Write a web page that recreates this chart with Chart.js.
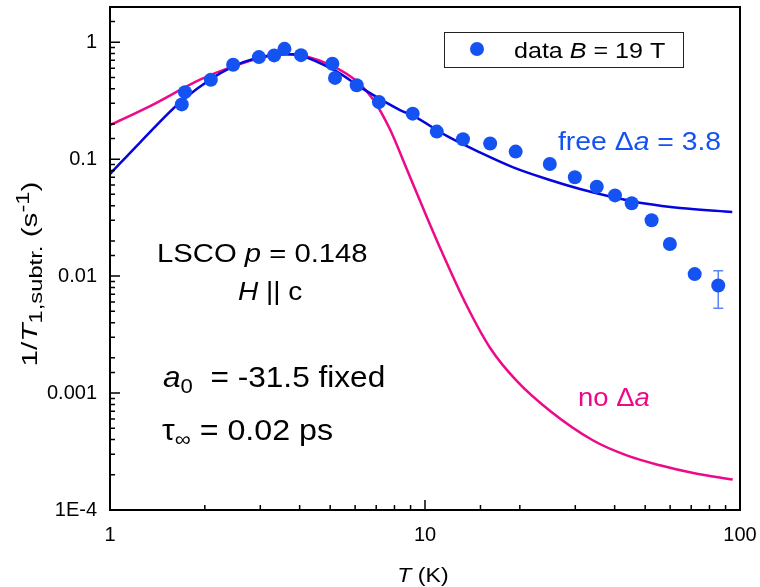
<!DOCTYPE html>
<html>
<head>
<meta charset="utf-8">
<script src="https://cdn.jsdelivr.net/npm/chart.js@4.4.1/dist/chart.umd.min.js"></script>
<style>
  html, body { margin: 0; padding: 0; background: #fff; }
</style>
</head>
<body>
<canvas id="chart" width="760" height="587"></canvas>
<script>
// measured data, B = 19 T
const tempData = [1.69, 1.73, 2.09, 2.46, 2.97, 3.32, 3.58, 4.04, 5.08, 5.18, 6.07, 7.14, 9.14, 10.9, 13.2, 16.1, 19.4, 24.9, 29.9, 35.1, 40.1, 45.3, 52.4, 59.9, 71.8, 85.3];
const rateData = [0.294, 0.374, 0.478, 0.641, 0.746, 0.771, 0.877, 0.775, 0.654, 0.495, 0.429, 0.308, 0.245, 0.172, 0.148, 0.136, 0.116, 0.091, 0.070, 0.058, 0.049, 0.042, 0.030, 0.0188, 0.0104, 0.0083];

// error bar (last point only)
const errT = [85.3];
const errLow = [0.0053];
const errHigh = [0.0111];

// fit with free delta a = 3.8
const fitFreeT = [1, 1.245, 1.709, 2.463, 3.299, 3.6, 4.01, 5.117, 6.53, 8.33, 9.18, 11.72, 14.95, 19.06, 24.34, 31.05, 39.6, 50.6, 64.5, 94.5];
const fitFreeRate = [0.0746, 0.1387, 0.3236, 0.622, 0.780, 0.79, 0.771, 0.582, 0.3814, 0.263, 0.234, 0.158, 0.1141, 0.0851, 0.0677, 0.0556, 0.0473, 0.0415, 0.0382, 0.0353];

// fit with no delta a
const fitNoT = [1, 1.34, 1.931, 2.457, 3.144, 3.64, 4.21, 5.117, 6.07, 6.85, 7.74, 8.75, 9.88, 11.3, 13.56, 16.08, 19.55, 24.9, 34.2, 43.7, 55.7, 71.1, 94.8];
const fitNoRate = [0.195, 0.284, 0.478, 0.622, 0.756, 0.791, 0.756, 0.622, 0.464, 0.324, 0.180, 0.0823, 0.0376, 0.0162, 0.0056, 0.00244, 0.00127, 0.000707, 0.000393, 0.000293, 0.000241, 0.000207, 0.000182];

// axis ticks
const xTickValues = [1, 10, 100];
const xTickLabels = ['1', '10', '100'];
const yTickValues = [1e-4, 1e-3, 1e-2, 1e-1, 1];
const yTickLabels = ['1E-4', '0.001', '0.01', '0.1', '1'];

const DOT_BLUE = '#1452f2';
const LINE_BLUE = '#0505dc';
const PINK = '#ec0a88';
const FONT = "'Liberation Sans', Arial, sans-serif";

const pts = (xs, ys) => xs.map((x, i) => ({ x, y: ys[i] }));
const near = (a, b) => Math.abs(Math.log10(a) - Math.log10(b)) < 1e-6;
const decadeLabel = (vals, labels) => v => {
  const i = vals.findIndex(t => near(t, v));
  return i >= 0 ? labels[i] : '';
};

// text with italic / sub / sup runs, sx = horizontal stretch
function richText(ctx, parts, x, y, size, color, align, sx = 1, subScale = 0.7) {
  const fontFor = st => {
    const small = st === 'sub' || st === 'sup';
    return (st === 'i' ? 'italic ' : '') + (small ? size * subScale : size) + 'px ' + FONT;
  };
  let w = 0;
  parts.forEach(([t, st]) => { ctx.font = fontFor(st); w += ctx.measureText(t).width; });
  ctx.save();
  ctx.translate(x, y);
  ctx.scale(sx, 1);
  let cx = align === 'center' ? -w / 2 : 0;
  ctx.fillStyle = color;
  ctx.textAlign = 'left';
  ctx.textBaseline = 'alphabetic';
  parts.forEach(([t, st]) => {
    ctx.font = fontFor(st);
    const dy = st === 'sub' ? size * 0.22 : st === 'sup' ? -size * 0.38 : 0;
    ctx.fillText(t, cx, dy);
    cx += ctx.measureText(t).width;
  });
  ctx.restore();
}

const isDecade = v => Math.abs(Math.log10(v) - Math.round(Math.log10(v))) < 1e-6;

// frame, inward ticks, error bar, legend and labels
const decor = {
  id: 'decor',
  beforeDatasetsDraw(chart) {
    const { ctx, scales: { x, y } } = chart;
    ctx.save();
    ctx.strokeStyle = '#5a86f2';
    ctx.lineWidth = 1.5;
    errT.forEach((t, i) => {
      const px = x.getPixelForValue(t);
      const lo = y.getPixelForValue(errLow[i]);
      const hi = y.getPixelForValue(errHigh[i]);
      ctx.beginPath();
      ctx.moveTo(px, lo); ctx.lineTo(px, hi);
      ctx.moveTo(px - 5, lo); ctx.lineTo(px + 5, lo);
      ctx.moveTo(px - 5, hi); ctx.lineTo(px + 5, hi);
      ctx.stroke();
    });
    ctx.restore();
  },
  afterDraw(chart) {
    const { ctx, chartArea: { left, right, top, bottom }, scales: { x, y } } = chart;
    ctx.save();
    ctx.strokeStyle = '#000';
    ctx.lineWidth = 2;
    ctx.strokeRect(left, top, right - left, bottom - top);

    ctx.lineWidth = 1.5;
    ctx.beginPath();
    x.ticks.forEach(t => {
      const px = x.getPixelForValue(t.value);
      const len = isDecade(t.value) ? 10 : 5;
      ctx.moveTo(px, bottom); ctx.lineTo(px, bottom - len);
    });
    y.ticks.forEach(t => {
      const py = y.getPixelForValue(t.value);
      const len = isDecade(t.value) ? 10 : 5;
      ctx.moveTo(left, py); ctx.lineTo(left + len, py);
    });
    ctx.stroke();

    // legend
    ctx.lineWidth = 1;
    ctx.strokeStyle = '#222';
    ctx.strokeRect(444.5, 32.5, 239, 35);
    ctx.fillStyle = DOT_BLUE;
    ctx.beginPath();
    ctx.arc(477, 49, 7, 0, Math.PI * 2);
    ctx.fill();
    richText(ctx, [['data ', ''], ['B', 'i'], [' = 19 T', '']], 514, 58, 22, '#000', 'left', 1.14);

    // annotations
    richText(ctx, [['LSCO ', ''], ['p', 'i'], [' = 0.148', '']], 157, 262, 25, '#000', 'left', 1.17);
    richText(ctx, [['H', 'i'], [' || c', '']], 238, 300, 25, '#000', 'left', 1.12);
    richText(ctx, [['a', 'i'], ['0', 'sub'], ['  = -31.5 fixed', '']], 163, 387, 29, '#000', 'left', 1.09);
    richText(ctx, [['\u03c4', ''], ['\u221e', 'sub'], [' = 0.02 ps', '']], 162, 440, 29, '#000', 'left', 1.11);
    richText(ctx, [['free \u0394', ''], ['a', 'i'], [' = 3.8', '']], 558, 150, 26, DOT_BLUE, 'left', 1.09);
    richText(ctx, [['no \u0394', ''], ['a', 'i']], 578, 406, 25, PINK, 'left', 1.1);

    // axis titles
    richText(ctx, [['T', 'i'], [' (K)', '']], 423, 582, 21, '#000', 'center', 1.1);
    ctx.save();
    ctx.translate(37, 274);
    ctx.rotate(-Math.PI / 2);
    richText(ctx, [['1/', ''], ['T', 'i'], ['1,subtr.', 'sub'], [' (s', ''], ['-1', 'sup'], [')', '']], 0, 0, 22, '#000', 'center', 1.35, 0.8);
    ctx.restore();
    ctx.restore();
  }
};

new Chart(document.getElementById('chart'), {
  type: 'scatter',
  data: {
    datasets: [
      {
        label: 'data B = 19 T',
        data: pts(tempData, rateData),
        showLine: false,
        pointRadius: 7,
        pointBorderWidth: 0,
        pointBackgroundColor: DOT_BLUE
      },
      {
        label: 'free',
        data: pts(fitFreeT, fitFreeRate),
        showLine: true,
        pointRadius: 0,
        borderColor: LINE_BLUE,
        borderWidth: 2.5,
        cubicInterpolationMode: 'monotone'
      },
      {
        label: 'no',
        data: pts(fitNoT, fitNoRate),
        showLine: true,
        pointRadius: 0,
        borderColor: PINK,
        borderWidth: 2.5,
        cubicInterpolationMode: 'monotone'
      }
    ]
  },
  options: {
    responsive: false,
    animation: false,
    layout: { padding: { top: 4, right: 20, left: 0, bottom: 0 } },
    plugins: { legend: { display: false }, tooltip: { enabled: false } },
    scales: {
      x: {
        type: 'logarithmic',
        min: 1, max: 100,
        grid: { display: false, drawTicks: false },
        border: { display: false },
        ticks: {
          autoSkip: false, maxRotation: 0, padding: 13,
          color: '#000', font: { family: FONT, size: 20 },
          callback: decadeLabel(xTickValues, xTickLabels)
        },
        afterFit: s => { s.height = 77; s.paddingLeft = 0; s.paddingRight = 0; }
      },
      y: {
        type: 'logarithmic',
        min: 1e-4, max: 2,
        grid: { display: false, drawTicks: false },
        border: { display: false },
        ticks: {
          autoSkip: false, padding: 13,
          color: '#000', font: { family: FONT, size: 20 },
          callback: decadeLabel(yTickValues, yTickLabels)
        },
        afterFit: s => { s.width = 110; s.paddingTop = 0; s.paddingBottom = 0; }
      }
    }
  },
  plugins: [decor]
});
</script>
</body>
</html>
